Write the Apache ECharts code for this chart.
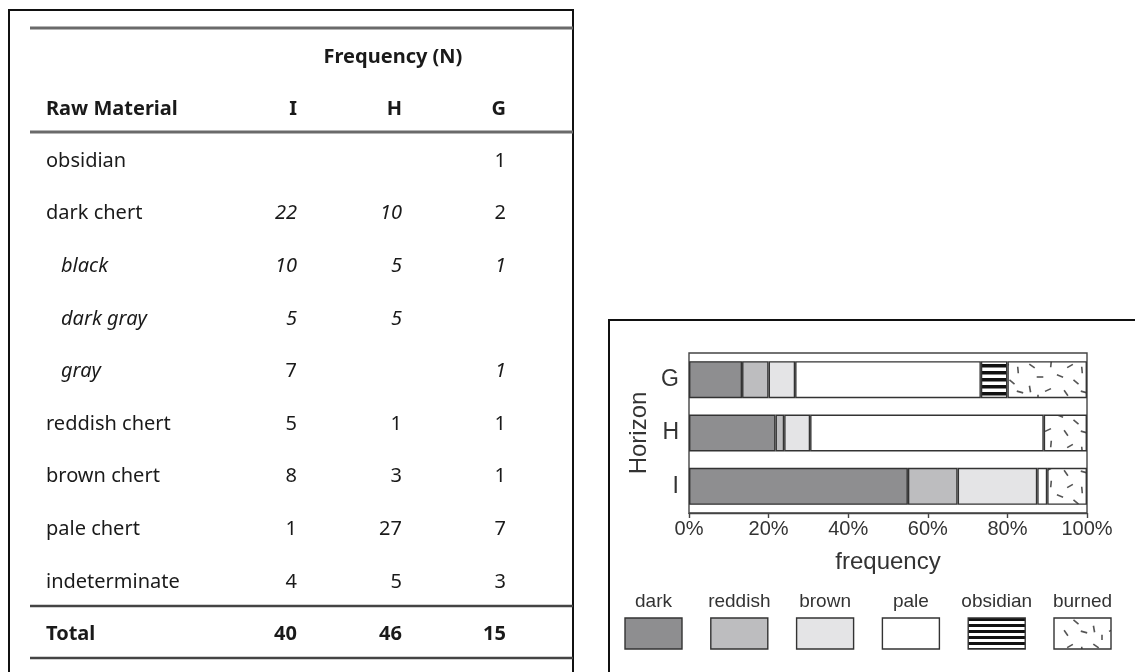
<!DOCTYPE html>
<html>
<head>
<meta charset="utf-8">
<script src="https://cdn.jsdelivr.net/npm/echarts@6/dist/echarts.min.js"></script>
<style>
html,body{margin:0;padding:0;background:#fff;}
#chart{width:1135px;height:672px;}
</style>
</head>
<body>
<div id="chart"></div>
<script>
// ---------- Table data ----------
const tableTitle = 'Frequency (N)';
const firstColHead = 'Raw Material';
const columnHeads = ['I', 'H', 'G'];
const rowLabels = ['obsidian', 'dark chert', 'black', 'dark gray', 'gray', 'reddish chert', 'brown chert', 'pale chert', 'indeterminate'];
const isSubRow = [false, false, true, true, true, false, false, false, false];
const countsI = [null, 22, 10, 5, 7, 5, 8, 1, 4];
const countsH = [null, 10, 5, 5, null, 1, 3, 27, 5];
const countsG = [1, 2, 1, null, 1, 1, 1, 7, 3];
const totalLabel = 'Total';
const totals = [40, 46, 15];
// cells printed in italics: [row, col]
const italicCells = [[1, 0], [1, 1], [2, 0], [2, 1], [2, 2], [3, 0], [3, 1], [4, 2]];

// ---------- Chart data ----------
const horizons = ['I', 'H', 'G'];
const materialNames = ['dark', 'reddish', 'brown', 'pale', 'obsidian', 'burned'];
const darkN = [22, 10, 2];
const reddishN = [5, 1, 1];
const brownN = [8, 3, 1];
const paleN = [1, 27, 7];
const obsidianN = [0, 0, 1];
const burnedN = [4, 5, 3];
const xTickValues = [0, 20, 40, 60, 80, 100];

// ---------- Patterns ----------
function stripePattern(period, black) {
  const c = document.createElement('canvas');
  c.width = 8; c.height = period;
  const g = c.getContext('2d');
  g.fillStyle = '#fff'; g.fillRect(0, 0, 8, period);
  g.fillStyle = '#111'; g.fillRect(0, 0, 8, black);
  return { image: c, repeat: 'repeat' };
}
function dashPattern() {
  const c = document.createElement('canvas');
  c.width = 64; c.height = 40;
  const g = c.getContext('2d');
  g.fillStyle = '#fff'; g.fillRect(0, 0, 64, 40);
  g.strokeStyle = '#555'; g.lineWidth = 1.6; g.lineCap = 'butt';
  const dashes = [[8, 6, 35], [27, 4, 95], [46, 6, -30], [58, 10, 85], [16, 17, 0], [36, 16, 20], [52, 22, 40], [6, 29, 80], [24, 30, -25], [42, 33, 55], [60, 32, 15], [14, 38, 90]];
  dashes.forEach(([x, y, a]) => {
    const r = a * Math.PI / 180, L = 3.3;
    g.beginPath();
    g.moveTo(x - L * Math.cos(r), y - L * Math.sin(r));
    g.lineTo(x + L * Math.cos(r), y + L * Math.sin(r));
    g.stroke();
  });
  return { image: c, repeat: 'repeat' };
}
const fills = ['#8e8e90', '#bdbdbf', '#e4e4e6', '#ffffff', stripePattern(7, 3.5), dashPattern()];
const legendFills = ['#8e8e90', '#bdbdbf', '#e4e4e6', '#ffffff', stripePattern(6, 3), dashPattern()];

// ---------- Build series ----------
const countsByMaterial = [darkN, reddishN, brownN, paleN, obsidianN, burnedN];
const horizonTotals = horizons.map((_, j) => countsByMaterial.reduce((s, arr) => s + arr[j], 0));
const series = materialNames.map((name, k) => ({
  name: name,
  type: 'bar',
  stack: 'all',
  barCategoryGap: '30.6%',
  data: countsByMaterial[k].map((n, j) => n === 0 ? '-' : n / horizonTotals[j] * 100),
  itemStyle: { color: fills[k], borderColor: '#333', borderWidth: 1.4 },
  emphasis: { disabled: true },
  silent: true
}));

// ---------- Graphic (table, borders, legend) ----------
const TF = '"Noto Sans", sans-serif';
const FS = '20px ';
const graphics = [];
function txt(t, x, y, opts) {
  graphics.push({
    type: 'text', x: x, y: y, silent: true,
    style: Object.assign({ text: t, fill: '#1a1a1a', textVerticalAlign: 'middle', textAlign: 'left', font: FS + TF }, opts || {})
  });
}
function line(x1, y1, x2, y2, w, c) {
  graphics.push({ type: 'line', silent: true, shape: { x1, y1, x2, y2 }, style: { stroke: c, lineWidth: w } });
}
// panel borders
line(9, 10, 574, 10, 2, '#111');
line(9, 9, 9, 672, 2, '#111');
line(573, 9, 573, 672, 2, '#111');
line(609, 320, 1135, 320, 2, '#111');
line(609, 319, 609, 672, 2, '#111');
// table rules
line(30, 28, 573, 28, 3, '#6a6a6a');
line(30, 132, 573, 132, 3, '#6a6a6a');
line(30, 606, 573, 606, 2.5, '#444');
line(30, 658, 573, 658, 2.5, '#444');
// headers
const dy = 2;
txt(tableTitle, 393, 55 + dy, { font: 'bold ' + FS + TF, textAlign: 'center' });
txt(firstColHead, 46, 107 + dy, { font: 'bold ' + FS + TF });
const colRight = [297, 402, 506];
columnHeads.forEach((h, c) => txt(h, colRight[c], 107 + dy, { font: 'bold ' + FS + TF, textAlign: 'right' }));
// rows
const colVals = [countsI, countsH, countsG];
const isItalic = (r, c) => italicCells.some(p => p[0] === r && p[1] === c);
rowLabels.forEach((lab, r) => {
  const y = 159 + r * 52.63 + dy;
  txt(lab, isSubRow[r] ? 61 : 46, y, { font: (isSubRow[r] ? 'italic ' : '') + FS + TF });
  colVals.forEach((arr, c) => {
    if (arr[r] !== null) {
      txt(String(arr[r]), colRight[c], y, { font: (isItalic(r, c) ? 'italic ' : '') + FS + TF, textAlign: 'right' });
    }
  });
});
txt(totalLabel, 46, 632 + dy, { font: 'bold ' + FS + TF });
totals.forEach((t, c) => txt(String(t), colRight[c], 632 + dy, { font: 'bold ' + FS + TF, textAlign: 'right' }));

// legend (labels above boxes)
const CF = '"Liberation Sans", Arial, sans-serif';
materialNames.forEach((name, k) => {
  const bx = 625 + k * 85.8;
  graphics.push({
    type: 'rect', silent: true,
    shape: { x: bx, y: 618, width: 57, height: 31 },
    style: { fill: legendFills[k], stroke: '#333', lineWidth: 1.4 }
  });
  txt(name, bx + 28.5, 602, { font: '19px ' + CF, textAlign: 'center', fill: '#333' });
});

// ---------- Chart ----------
const chart = echarts.init(document.getElementById('chart'), null, { renderer: 'canvas' });
chart.setOption({
  animation: false,
  backgroundColor: '#fff',
  textStyle: { fontFamily: CF },
  grid: { left: 689, top: 353, width: 398, height: 160, show: true, borderColor: '#444', borderWidth: 1.4, backgroundColor: 'transparent' },
  xAxis: {
    type: 'value', min: 0, max: 100, interval: 20,
    name: 'frequency', nameLocation: 'middle', nameGap: 37,
    nameTextStyle: { fontSize: 24, color: '#333', fontFamily: CF },
    axisLine: { show: true, lineStyle: { color: '#444', width: 1.4 } },
    axisTick: { show: true, length: 5, lineStyle: { color: '#444', width: 1.4 }, customValues: xTickValues },
    axisLabel: { formatter: '{value}%', fontSize: 20, color: '#333', margin: 6, fontFamily: CF, customValues: xTickValues },
    splitLine: { show: false }
  },
  yAxis: {
    type: 'category', data: horizons,
    name: 'Horizon', nameLocation: 'middle', nameGap: 38, nameRotate: 90,
    nameTextStyle: { fontSize: 24, color: '#333', fontFamily: CF },
    axisLine: { show: false },
    axisTick: { show: false },
    axisLabel: { fontSize: 23, color: '#333', margin: 10, fontFamily: CF }
  },
  series: series,
  graphic: { elements: graphics }
});
</script>
</body>
</html>
